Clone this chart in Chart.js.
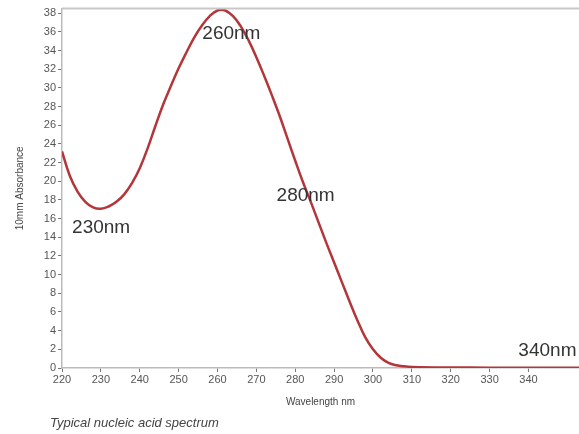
<!DOCTYPE html>
<html>
<head>
<meta charset="utf-8">
<script src="https://cdn.jsdelivr.net/npm/chart.js@4.4.1/dist/chart.umd.min.js"></script>
<style>
  html, body { margin: 0; padding: 0; background: #fff; overflow: hidden; }
  #box { position: relative; width: 579px; height: 434px; }
  #caption { position: absolute; left: 50px; top: 415px; font: italic 13px "Liberation Sans", Arial, sans-serif; color: #444; }
</style>
</head>
<body>
<div id="box">
  <canvas id="myChart" width="579" height="434"></canvas>
  <div id="caption">Typical nucleic acid spectrum</div>
</div>
<script>
// wavelength (nm) and absorbance
const wavelengths = [220, 222, 224, 226, 228, 230, 232, 234, 236, 238, 240, 242, 244, 246, 248, 250, 252, 254, 256, 258,
  260, 262, 264, 266, 268, 270, 272, 274, 276, 278, 280, 282, 284, 286, 288, 290, 292, 294, 296, 298,
  300, 302, 304, 306, 308, 310, 320, 330, 340, 353];
const absorbance = [23.2, 20.6, 18.9, 17.8, 17.2, 17.05, 17.3, 17.8, 18.6, 19.8, 21.4, 23.5, 25.9, 28.2, 30.2, 32.1, 33.8, 35.4, 36.7, 37.7,
  38.3, 38.3, 37.7, 36.6, 35.1, 33.3, 31.3, 29.2, 27.0, 24.6, 22.2, 19.9, 17.8, 15.6, 13.4, 11.3, 9.2, 7.1, 5.1, 3.3,
  2.0, 1.1, 0.55, 0.3, 0.18, 0.12, 0.06, 0.04, 0.03, 0.03];
const peakLabels = ["230nm", "260nm", "280nm", "340nm"];
const peakLabelX = [222.6, 256.1, 275.2, 337.4];
const peakLabelY = [15.0, 35.8, 18.5, 1.8];

const fontFamily = '"Liberation Sans", Arial, sans-serif';

//~==== labels + top border ====~//
const labelPlugin = {
  id: "peakLabels",
  afterDatasetsDraw(chart) {
    const c = chart.ctx;
    const xs = chart.scales.x;
    const ys = chart.scales.y;
    const area = chart.chartArea;
    c.save();
    c.strokeStyle = "#c8c8c8";
    c.lineWidth = 2;
    c.beginPath();
    c.moveTo(area.left, area.top);
    c.lineTo(area.right, area.top);
    c.stroke();
    c.fillStyle = "#333";
    c.font = "19px " + fontFamily;
    c.textAlign = "left";
    c.textBaseline = "middle";
    for (let i = 0; i < peakLabels.length; i++) {
      c.fillText(peakLabels[i], xs.getPixelForValue(peakLabelX[i]), ys.getPixelForValue(peakLabelY[i]));
    }
    c.restore();
  }
};

const points = wavelengths.map((w, i) => ({ x: w, y: absorbance[i] }));

const ctx = document.getElementById("myChart");
new Chart(ctx, {
  type: "line",
  data: {
    datasets: [{
      data: points,
      borderColor: "#b3363a",
      borderWidth: 2.5,
      pointRadius: 0,
      tension: 0.4,
      fill: false
    }]
  },
  options: {
    responsive: false,
    animation: false,
    layout: { padding: { left: 10, top: 8, right: 0, bottom: 24 } },
    plugins: { legend: { display: false }, tooltip: { enabled: false } },
    scales: {
      x: {
        type: "linear",
        min: 220,
        max: 353,
        afterBuildTicks(scale) {
          scale.ticks = scale.ticks.filter(t => t.value <= 340);
        },
        afterFit(scale) { scale.height = 42; },
        ticks: { stepSize: 10, includeBounds: false, autoSkip: false, maxRotation: 0, color: "#555", font: { family: fontFamily, size: 11 }, padding: 1 },
        grid: { drawOnChartArea: false, tickLength: 4, color: "#777" },
        border: { color: "#bbb", width: 1.5 },
        title: { display: true, text: "Wavelength nm", color: "#444", font: { family: fontFamily, size: 10 }, padding: { top: 2, bottom: 2 } }
      },
      y: {
        min: 0,
        max: 38.5,
        afterFit(scale) { scale.width = 52; },
        ticks: { stepSize: 2, includeBounds: false, autoSkip: false, color: "#555", font: { family: fontFamily, size: 11 }, padding: 2 },
        grid: { drawOnChartArea: false, tickLength: 4, color: "#777" },
        border: { color: "#bbb", width: 1.5 },
        title: { display: true, text: "10mm Absorbance", color: "#444", font: { family: fontFamily, size: 10 }, padding: { top: 4, bottom: 4 } }
      }
    }
  },
  plugins: [labelPlugin]
});
</script>
</body>
</html>
